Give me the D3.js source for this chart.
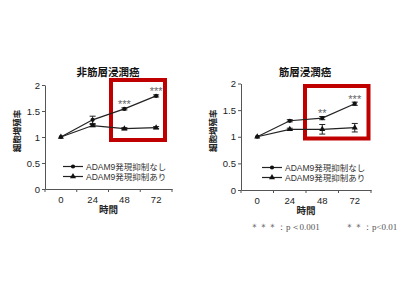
<!DOCTYPE html>
<html><head><meta charset="utf-8">
<script src="https://cdn.jsdelivr.net/npm/d3@7"></script>
<style>body{margin:0;background:#fff}svg{display:block}</style>
</head><body>
<script>
const hours = ["0","24","48","72"];
const yTicks = [0,0.5,1,1.5,2];
const seriesNames = ["ADAM9発現抑制なし","ADAM9発現抑制あり"];
const titles = ["非筋層浸潤癌","筋層浸潤癌"];
// Panel 1 (非筋層浸潤癌)
const p1Without = [1.0,1.33,1.54,1.79];
const p1WithoutErr = [0,0.07,0.02,0.02];
const p1With = [1.0,1.22,1.16,1.18];
const p1WithErr = [0,0.02,0.02,0.02];
const p1Stars = ["","","***","***"];
// Panel 2 (筋層浸潤癌)
const p2Without = [1.0,1.30,1.35,1.62];
const p2WithoutErr = [0,0.02,0.03,0.03];
const p2With = [1.0,1.14,1.14,1.17];
const p2WithErr = [0,0.02,0.09,0.08];
const p2Stars = ["","","**","***"];
const footnotes = ["＊＊＊：p＜0.001","＊＊：p<0.01"];

const svg = d3.select("body").append("svg").attr("width",400).attr("height",300);
const jp = "'Noto Sans CJK JP','Liberation Sans',Arial,sans-serif";
const mixed = "'Liberation Sans','Noto Sans CJK JP',Arial,sans-serif";

function panel(cfg){
  const g = svg.append("g");
  const x = d3.scaleBand().domain(hours).range([cfg.x0,cfg.x1]);
  const y = d3.scaleLinear().domain([0,2]).range([cfg.y0,cfg.y1]);
  // red box
  g.append("rect").attr("x",cfg.box[0]).attr("y",cfg.box[1]).attr("width",cfg.box[2]).attr("height",cfg.box[3])
    .attr("fill","none").attr("stroke","#c00000").attr("stroke-width",4);
  // y axis
  const ya = g.append("g").attr("transform",`translate(${cfg.x0},0)`)
    .call(d3.axisLeft(y).tickValues(yTicks).tickFormat(d=>d).tickSize(3).tickSizeOuter(0));
  ya.select(".domain").attr("stroke","#555");
  ya.selectAll(".tick line").attr("stroke","#555");
  ya.selectAll("text").attr("font-family","'Liberation Sans',Arial,sans-serif").attr("font-size",9.5).attr("fill","#222").attr("x",-5);
  // x axis
  const xa = g.append("g").attr("transform",`translate(0,${cfg.y0})`)
    .call(d3.axisBottom(x).tickSize(0).tickPadding(7));
  xa.select(".domain").attr("stroke","#555");
  xa.selectAll("text").attr("font-family","'Liberation Sans',Arial,sans-serif").attr("font-size",9.5).attr("fill","#222");
  // boundary ticks
  const bounds = hours.map(h=>x(h)).concat([x(hours[3])+x.bandwidth()]);
  g.selectAll(".bt").data(bounds).enter().append("line")
    .attr("x1",d=>d).attr("x2",d=>d).attr("y1",cfg.y0).attr("y2",cfg.y0+3).attr("stroke","#555");
  const cx = h => x(h)+x.bandwidth()/2;
  const line = d3.line().x((d,i)=>cx(hours[i])).y(d=>y(d));
  const series = [[cfg.without,cfg.withoutErr,"circle"],[cfg.with,cfg.withErr,"tri"]];
  series.forEach(([vals,errs,shape])=>{
    g.append("path").datum(vals).attr("d",line).attr("fill","none").attr("stroke","#222").attr("stroke-width",1.2);
    vals.forEach((v,i)=>{
      if(errs[i]>0){
        const px=cx(hours[i]);
        g.append("line").attr("x1",px).attr("x2",px).attr("y1",y(v-errs[i])).attr("y2",y(v+errs[i])).attr("stroke","#222");
        [v-errs[i],v+errs[i]].forEach(e=>g.append("line").attr("x1",px-3).attr("x2",px+3).attr("y1",y(e)).attr("y2",y(e)).attr("stroke","#222"));
      }
    });
    g.selectAll(null).data(vals).enter().append("path")
      .attr("transform",(d,i)=>`translate(${cx(hours[i])},${y(d)})`)
      .attr("d",d3.symbol().type(shape==="circle"?d3.symbolCircle:d3.symbolTriangle).size(shape==="circle"?14:16))
      .attr("fill","#111");
  });
  // stars
  cfg.stars.forEach((s,i)=>{
    if(!s) return;
    g.append("text").attr("x",cx(hours[i])).attr("y",y(cfg.without[i])-1).attr("text-anchor","middle")
      .attr("font-family","'Liberation Sans',Arial,sans-serif").attr("font-size",11).attr("fill","#666").text(s);
  });
  // title
  g.append("text").attr("x",cfg.titleX).attr("y",76).attr("text-anchor","middle")
    .attr("font-family",jp).attr("font-weight","bold").attr("font-size",10.5).attr("fill","#111").text(cfg.title);
  // y label
  g.append("text").attr("transform",`translate(${cfg.x0-25},${y(1)-6}) rotate(-90)`).attr("text-anchor","middle")
    .attr("font-family",jp).attr("font-weight","bold").attr("font-size",8.5).attr("fill","#222").text("細胞増殖率");
  // x label
  g.append("text").attr("x",(cfg.x0+cfg.x1)/2).attr("y",cfg.y0+24).attr("text-anchor","middle")
    .attr("font-family",jp).attr("font-weight","bold").attr("font-size",9.5).attr("fill","#222").text("時間");
  // legend
  [0,1].forEach(k=>{
    const ly = cfg.legY + k*10;
    g.append("line").attr("x1",cfg.legX).attr("x2",cfg.legX+20).attr("y1",ly).attr("y2",ly).attr("stroke","#222").attr("stroke-width",1.2);
    g.append("path").attr("transform",`translate(${cfg.legX+10},${ly})`)
      .attr("d",d3.symbol().type(k===0?d3.symbolCircle:d3.symbolTriangle).size(k===0?14:16)).attr("fill","#111");
    g.append("text").attr("x",cfg.legX+23).attr("y",ly+3.2).attr("font-family",mixed).attr("font-size",8.5).attr("fill","#333").text(seriesNames[k]);
  });
}

panel({x0:45,x1:172,y0:189,y1:85,box:[111,80,54,60],title:titles[0],titleX:108,
  without:p1Without,withoutErr:p1WithoutErr,with:p1With,withErr:p1WithErr,stars:p1Stars,legX:63,legY:166.5});
panel({x0:241,x1:371,y0:190,y1:83.5,box:[305,86,63.5,52.5],title:titles[1],titleX:305,
  without:p2Without,withoutErr:p2WithoutErr,with:p2With,withErr:p2WithErr,stars:p2Stars,legX:262,legY:167.5});

svg.append("text").attr("x",250).attr("y",230).attr("font-family","'Liberation Serif','DejaVu Serif',serif").attr("font-size",9).attr("fill","#555").text(footnotes[0]);
svg.append("text").attr("x",345).attr("y",230).attr("font-family","'Liberation Serif','DejaVu Serif',serif").attr("font-size",9).attr("fill","#555").text(footnotes[1]);
</script>
</body></html>
